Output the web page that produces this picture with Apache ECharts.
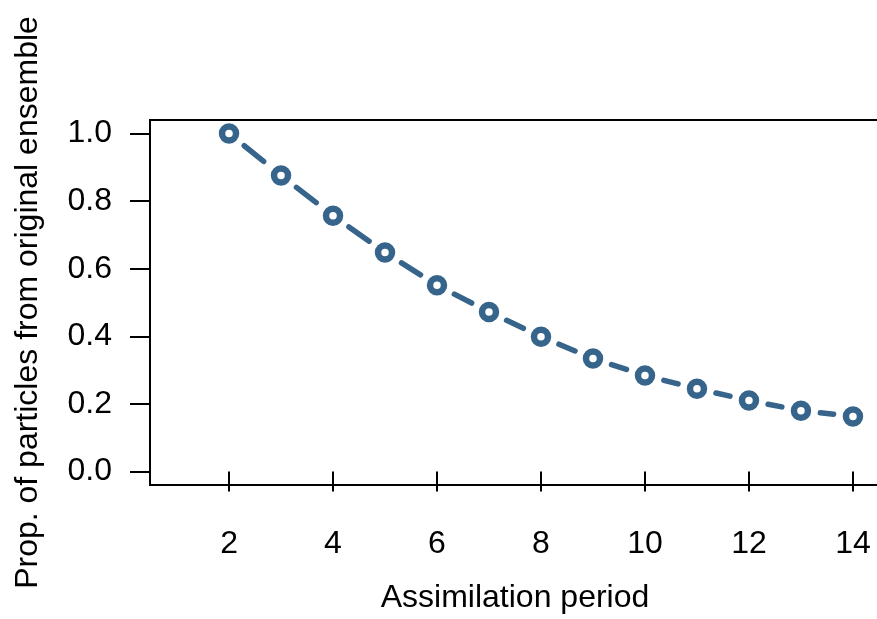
<!DOCTYPE html>
<html><head><meta charset="utf-8">
<script src="https://cdn.jsdelivr.net/npm/echarts@6/dist/echarts.min.js"></script>
<style>html,body{margin:0;padding:0;background:#fff}#c{width:877px;height:619px}</style>
</head><body><div id="c"></div>
<script>
const periods = [2, 3, 4, 5, 6, 7, 8, 9, 10, 11, 12, 13, 14];
const propValues = [1.0, 0.876, 0.757, 0.648, 0.551, 0.472, 0.399, 0.334, 0.284, 0.245, 0.210, 0.180, 0.163];
const xTicks = [2, 4, 6, 8, 10, 12, 14];
const yTicks = [0, 0.2, 0.4, 0.6, 0.8, 1.0];

const COLOR = '#36648B';
const FONT = '"Liberation Sans", Arial, sans-serif';
const GAP = 19.5, DASH = 25;

const chart = echarts.init(document.getElementById('c'), null, {renderer: 'canvas'});
const pts = periods.map((x, i) => [x, propValues[i]]);

const markerSeries = {
  type: 'scatter', data: pts, symbol: 'circle', symbolSize: 14, z: 5, silent: true,
  itemStyle: {color: '#fff', borderColor: COLOR, borderWidth: 6.5, opacity: 1}
};

const option = {
  animation: false,
  grid: {left: 150, top: 120, right: -3, bottom: 134, show: true, borderColor: '#000', borderWidth: 2,
         backgroundColor: 'transparent', containLabel: false, outerBoundsMode: 'none'},
  xAxis: {
    type: 'value', min: 0.48, max: 14.52,
    name: 'Assimilation period', nameLocation: 'middle', nameGap: 97, nameMoveOverlap: false,
    nameTextStyle: {fontFamily: FONT, fontSize: 32, color: '#000'},
    axisLine: {show: false}, splitLine: {show: false},
    axisTick: {show: true, length: 20, customValues: xTicks, lineStyle: {color: '#000', width: 2}},
    axisLabel: {customValues: xTicks, margin: 43, fontSize: 32, color: '#000', fontFamily: FONT}
  },
  yAxis: {
    type: 'value', min: -0.04, max: 1.04,
    name: 'Prop. of particles from original ensemble', nameLocation: 'middle', nameGap: 106, nameRotate: 90,
    nameMoveOverlap: false,
    nameTextStyle: {fontFamily: FONT, fontSize: 32, color: '#000'},
    axisLine: {show: false}, splitLine: {show: false},
    axisTick: {show: true, length: 20, customValues: yTicks, lineStyle: {color: '#000', width: 2}},
    axisLabel: {customValues: yTicks, margin: 38, fontSize: 32, color: '#000', fontFamily: FONT,
                formatter: v => v.toFixed(1)}
  },
  series: [markerSeries]
};
chart.setOption(option);

const px = pts.map(p => chart.convertToPixel({gridIndex: 0}, p));
const segSeries = [];
for (let i = 0; i < pts.length - 1; i++) {
  const L = Math.hypot(px[i + 1][0] - px[i][0], px[i + 1][1] - px[i][1]);
  const core = Math.max(1, Math.min(DASH, L - 2 * GAP));
  segSeries.push({
    type: 'line', data: [pts[i], pts[i + 1]], showSymbol: false, symbol: 'none', z: 2, silent: true,
    lineStyle: {color: COLOR, width: 5.5, cap: 'round', type: [core, 10000], dashOffset: -GAP}
  });
}
chart.setOption({series: [markerSeries].concat(segSeries)});
</script>
</body></html>
